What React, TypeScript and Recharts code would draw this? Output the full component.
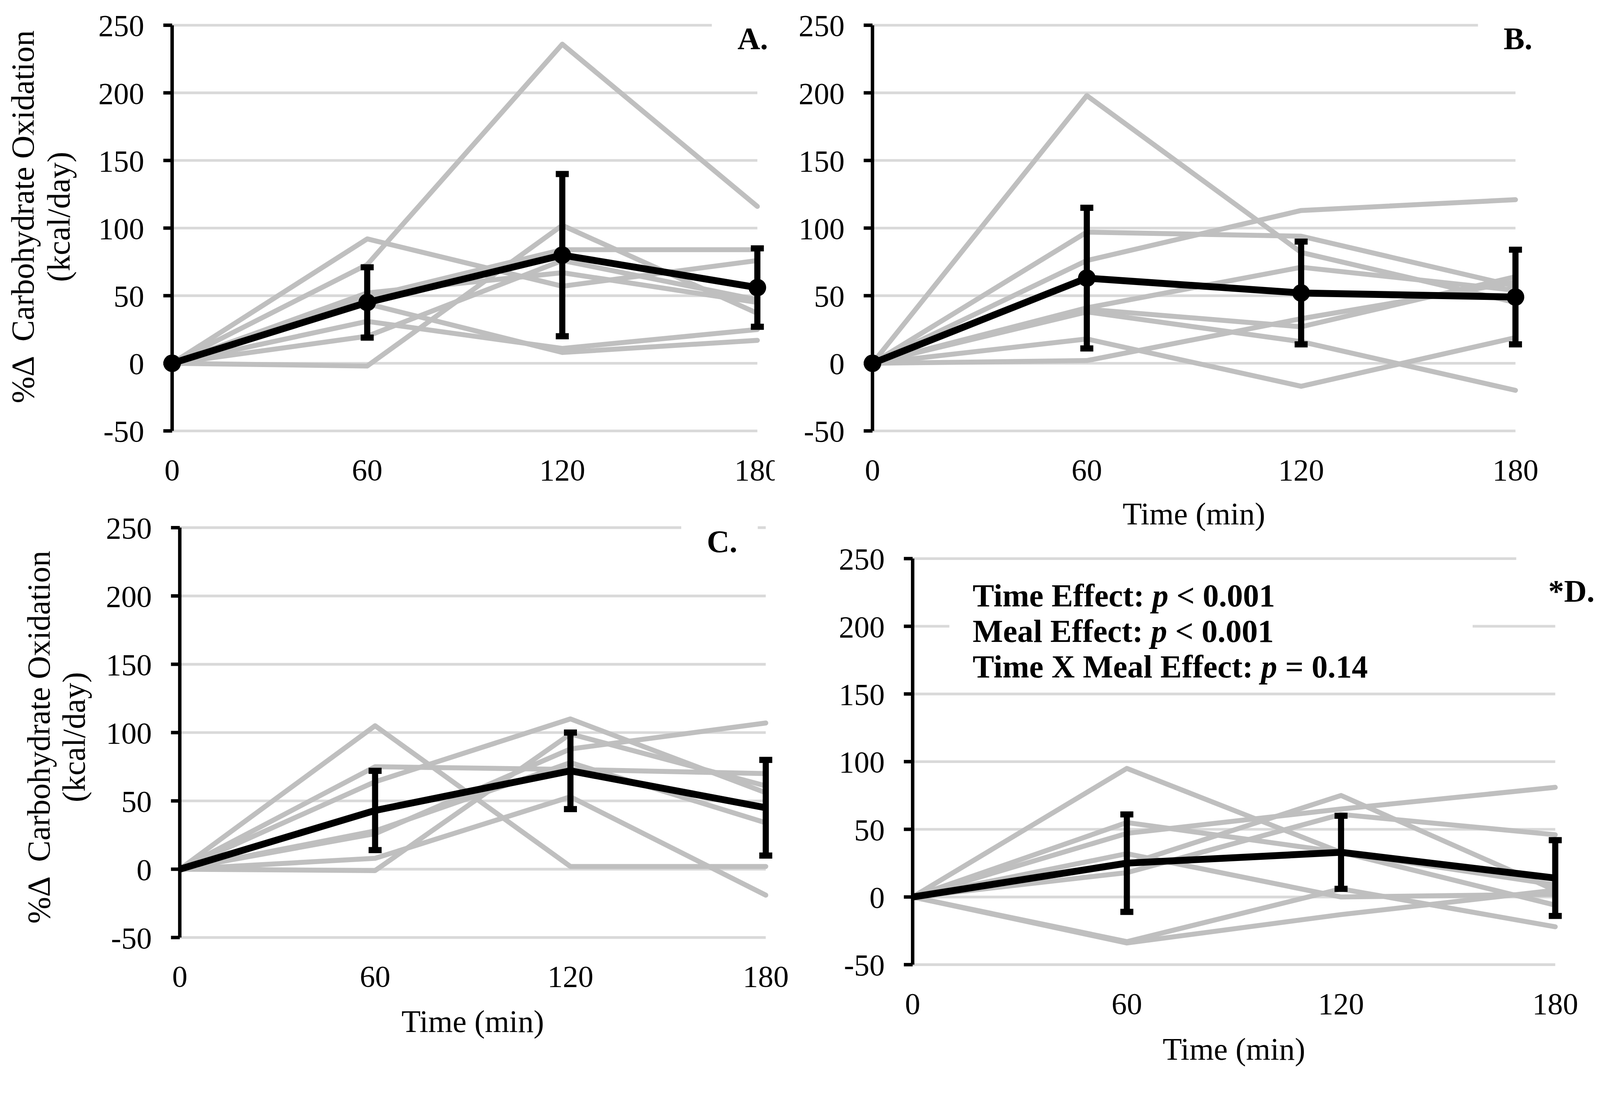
import React from "react";
import { LineChart, Line, XAxis, YAxis, CartesianGrid, ErrorBar } from "recharts";

const TIMES = [0, 60, 120, 180];
const Y_TICKS = [-50, 0, 50, 100, 150, 200, 250];

// A. individual subjects (% change), group mean and error
const A_SUBJECTS = [
  [0, 73, 236, 116],
  [0, 92, 57, 76],
  [0, 52, 67, 45],
  [0, -2, 102, 37],
  [0, 20, 76, 47],
  [0, 49, 84, 84],
  [0, 44, 8, 17],
  [0, 31, 11, 25],
];
const A_MEAN = [0, 45, 80, 56];
const A_ERR = [0, 26, 60, 29];

// B.
const B_SUBJECTS = [
  [0, 198, 82, 45],
  [0, 97, 94, 57],
  [0, 76, 113, 121],
  [0, 41, 71, 54],
  [0, 40, 27, 64],
  [0, 2, 33, 60],
  [0, 38, 16, -20],
  [0, 18, -17, 19],
];
const B_MEAN = [0, 63, 52, 49];
const B_ERR = [0, 52, 38, 35];

// C.
const C_SUBJECTS = [
  [0, 105, 2, 2],
  [0, 64, 110, 56],
  [0, 75, 73, 70],
  [0, -1, 99, 61],
  [0, 26, 88, 107],
  [0, 28, 78, 34],
  [0, 8, 53, -19],
];
const C_MEAN = [0, 43, 72, 45];
const C_ERR = [0, 29, 28, 35];

// D.
const D_SUBJECTS = [
  [0, 95, 33, -6],
  [0, 55, 33, 9],
  [0, 47, 65, 81],
  [0, 24, 75, 5],
  [0, 18, 61, 46],
  [0, 32, 0, 2],
  [0, -33, 6, -22],
  [0, -34, -13, 5],
];
const D_MEAN = [0, 25, 33, 14];
const D_ERR = [0, 36, 27, 28];

const SERIF = '"Liberation Serif", "Times New Roman", serif';
const GRAY = "#bfbfbf";
const GRID = "#d9d9d9";
const PAGE_W = 4183;
const PAGE_H = 2812;

function buildRows(subjects: number[][], mean: number[], err: number[]) {
  return TIMES.map((t, i) => {
    const row: Record<string, number> = { t, mean: mean[i], err: err[i] };
    subjects.forEach((s, k) => {
      row[`s${k}`] = s[i];
    });
    return row;
  });
}

function YTitle({ x1, x2, cy }: { x1: number; x2: number; cy: number }) {
  const common = { textAnchor: "middle" as const, fontSize: 84, fontFamily: SERIF, fill: "#000" };
  return (
    <g>
      <text transform={`translate(${x1},${cy}) rotate(-90)`} {...common} style={{ whiteSpace: "pre" }}>
        {"%Δ  Carbohydrate Oxidation"}
      </text>
      <text transform={`translate(${x2},${cy}) rotate(-90)`} {...common}>
        (kcal/day)
      </text>
    </g>
  );
}

type PanelProps = {
  subjects: number[][];
  mean: number[];
  err: number[];
  left: number;
  top: number;
  width: number;
  height: number;
  margin: { top: number; right: number; left: number; bottom: number };
  yAxisWidth: number;
  xAxisHeight: number;
  markers?: boolean;
  xTitleOffset?: number;
  yTitle?: { x1: number; x2: number; cy: number };
};

function Panel(p: PanelProps) {
  const data = buildRows(p.subjects, p.mean, p.err);
  const tick = { fill: "#000", fontSize: 80, fontFamily: SERIF };
  return (
    <div style={{ position: "absolute", left: p.left, top: p.top, width: p.width, height: p.height }}>
      <LineChart width={p.width} height={p.height} data={data} margin={p.margin}>
        <CartesianGrid vertical={false} stroke={GRID} strokeWidth={7} />
        <XAxis
          type="number" dataKey="t" domain={[0, 180]} ticks={TIMES} interval={0}
          axisLine={false} tickLine={false} tickSize={0} tickMargin={72}
          height={p.xAxisHeight} tick={tick}
          label={
            p.xTitleOffset != null
              ? { value: "Time (min)", position: "insideBottom", offset: p.xTitleOffset, fill: "#000", fontSize: 82, fontFamily: SERIF }
              : undefined
          }
        />
        <YAxis
          type="number" domain={[-50, 250]} ticks={Y_TICKS} interval={0}
          width={p.yAxisWidth} tick={tick} tickSize={23} tickMargin={50}
          axisLine={{ stroke: "#000", strokeWidth: 9 }}
          tickLine={{ stroke: "#000", strokeWidth: 9 }}
          label={p.yTitle ? { content: () => <YTitle {...p.yTitle!} /> } : undefined}
        />
        {p.subjects.map((_, k) => (
          <Line
            key={k} dataKey={`s${k}`} stroke={GRAY} strokeWidth={13} dot={false}
            strokeLinejoin="round" strokeLinecap="round" isAnimationActive={false}
          />
        ))}
        <Line
          dataKey="mean" stroke="#000" strokeWidth={18} strokeLinejoin="round"
          dot={p.markers ? { r: 23, fill: "#000", stroke: "#000", strokeWidth: 0 } : false}
          activeDot={false} isAnimationActive={false}
        >
          <ErrorBar dataKey="err" direction="y" width={17} strokeWidth={16} stroke="#000" isAnimationActive={false} />
        </Line>
      </LineChart>
    </div>
  );
}

const box: React.CSSProperties = {
  position: "absolute",
  background: "#fff",
  fontFamily: SERIF,
  fontWeight: "bold",
  fontSize: 82,
  lineHeight: "82px",
  color: "#000",
  whiteSpace: "nowrap",
  boxSizing: "border-box",
};

export default function App() {
  // the browser may lay the page out narrower than 4183 css px; fit the figure to it
  const vw = typeof window !== "undefined" && window.innerWidth ? window.innerWidth : PAGE_W;
  const fit = Math.min(1, vw / PAGE_W);
  return (
    <div
      style={{
        position: "absolute", left: 0, top: 0, width: PAGE_W, height: PAGE_H,
        background: "#fff", fontFamily: SERIF, transform: `scale(${fit})`, transformOrigin: "0 0",
      }}
    >
      <Panel
        subjects={A_SUBJECTS} mean={A_MEAN} err={A_ERR}
        left={0} top={0} width={2025} height={1300}
        margin={{ top: 66, right: 45, left: 0, bottom: 0 }}
        yAxisWidth={450} xAxisHeight={173} markers
        yTitle={{ x1: 88, x2: 182, cy: 567 }}
      />
      <Panel
        subjects={B_SUBJECTS} mean={B_MEAN} err={B_ERR}
        left={2028} top={0} width={2155} height={1400}
        margin={{ top: 66, right: 221, left: 0, bottom: 0 }}
        yAxisWidth={253} xAxisHeight={273} markers xTitleOffset={28}
      />
      <Panel
        subjects={C_SUBJECTS} mean={C_MEAN} err={C_ERR}
        left={0} top={1300} width={2062} height={1420}
        margin={{ top: 80, right: 60, left: 0, bottom: 0 }}
        yAxisWidth={470} xAxisHeight={268} xTitleOffset={21}
        yTitle={{ x1: 130, x2: 222, cy: 628 }}
      />
      <Panel
        subjects={D_SUBJECTS} mean={D_MEAN} err={D_ERR}
        left={2080} top={1380} width={2103} height={1432}
        margin={{ top: 81, right: 117, left: 0, bottom: 0 }}
        yAxisWidth={306} xAxisHeight={289} xTitleOffset={40}
      />

      <div style={{ ...box, left: 1861, top: 50, width: 170, height: 100, paddingLeft: 67, paddingTop: 11 }}>A.</div>
      <div style={{ ...box, left: 3864, top: 50, width: 200, height: 100, paddingLeft: 67, paddingTop: 11 }}>B.</div>
      <div style={{ ...box, left: 1781, top: 1360, width: 200, height: 110, paddingLeft: 67, paddingTop: 16 }}>C.</div>
      <div style={{ ...box, left: 3964, top: 1440, width: 219, height: 160, paddingLeft: 84, paddingTop: 66 }}>*D.</div>

      <div
        style={{
          ...box, left: 2482, top: 1480, width: 1368, height: 320,
          paddingLeft: 61, paddingTop: 31, fontSize: 84, lineHeight: "93px",
        }}
      >
        <div>Time Effect: <i>p</i> &lt; 0.001</div>
        <div>Meal Effect: <i>p</i> &lt; 0.001</div>
        <div>Time X Meal Effect: <i>p</i> = 0.14</div>
      </div>
    </div>
  );
}
